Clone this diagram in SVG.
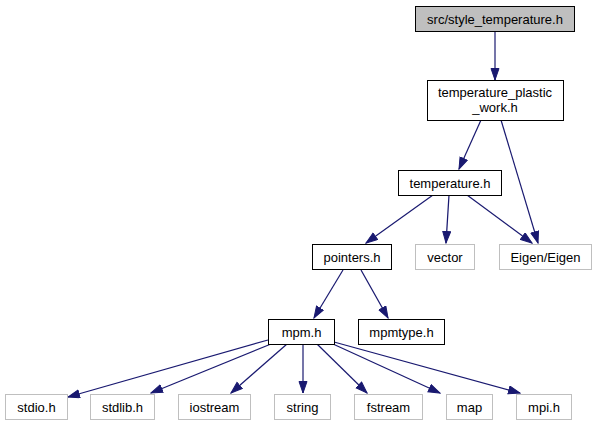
<svg xmlns="http://www.w3.org/2000/svg" width="597" height="425" viewBox="0 0 597 425">
<style>
  .n rect { fill: #ffffff; stroke: #000000; stroke-width: 1; }
  .g rect { fill: #ffffff; stroke: #bfbfbf; stroke-width: 1; }
  .root rect { fill: #bfbfbf; stroke: #000000; stroke-width: 1; }
  text { font-family: "Liberation Sans", Arial, sans-serif; font-size: 13px; fill: #000000; text-anchor: middle; }
  .e { stroke: #191970; stroke-width: 1.2; fill: none; marker-end: url(#ah); }
</style>
<defs>
  <marker id="ah" markerUnits="userSpaceOnUse" markerWidth="13" markerHeight="10" refX="12" refY="4.5" orient="auto">
    <path d="M0.5,0.5 L12,4.5 L0.5,8.5 z" fill="#191970" stroke="#191970" stroke-width="1"/>
  </marker>
</defs>
<rect width="597" height="425" fill="#ffffff"/>
<g id="edges">
  <line class="e" x1="495" y1="31" x2="495" y2="80"/>
  <line class="e" x1="481" y1="120" x2="459" y2="169"/>
  <line class="e" x1="501" y1="120" x2="538" y2="243"/>
  <line class="e" x1="433" y1="195" x2="366" y2="243"/>
  <line class="e" x1="449" y1="195" x2="446" y2="243"/>
  <line class="e" x1="467" y1="195" x2="532" y2="243"/>
  <line class="e" x1="343" y1="270" x2="314" y2="318"/>
  <line class="e" x1="361" y1="270" x2="388" y2="318"/>
  <line class="e" x1="268" y1="340" x2="68" y2="397"/>
  <line class="e" x1="271" y1="344" x2="151" y2="393"/>
  <line class="e" x1="287" y1="344" x2="231" y2="393"/>
  <line class="e" x1="303" y1="344" x2="303" y2="393"/>
  <line class="e" x1="317" y1="344" x2="367" y2="393"/>
  <line class="e" x1="333" y1="344" x2="440" y2="393"/>
  <line class="e" x1="334" y1="342" x2="520" y2="393"/>
</g>
<g id="node_style_temperature" class="root"><rect x="415.5" y="6.5" width="159" height="25"/><text x="495" y="23.5">src/style_temperature.h</text></g>
<g id="node_temperature_plastic_work" class="n"><rect x="427.5" y="80.5" width="136" height="40"/><text x="495" y="97">temperature_plastic</text><text x="495" y="111.5">_work.h</text></g>
<g id="node_temperature" class="n"><rect x="398.5" y="170.5" width="103" height="25"/><text x="450" y="187.5">temperature.h</text></g>
<g id="node_pointers" class="n"><rect x="312.5" y="244.5" width="79" height="25"/><text x="352" y="261.5">pointers.h</text></g>
<g id="node_vector" class="g"><rect x="415.5" y="244.5" width="59" height="25"/><text x="445" y="261.5">vector</text></g>
<g id="node_eigen" class="g"><rect x="499.5" y="244.5" width="92" height="25"/><text x="545.5" y="261.5">Eigen/Eigen</text></g>
<g id="node_mpm" class="n"><rect x="268.5" y="319.5" width="66" height="25"/><text x="301.5" y="336.5">mpm.h</text></g>
<g id="node_mpmtype" class="n"><rect x="358.5" y="319.5" width="86" height="25"/><text x="401.5" y="336.5">mpmtype.h</text></g>
<g id="node_stdio" class="g"><rect x="5.5" y="394.5" width="62" height="25"/><text x="36.5" y="411.5">stdio.h</text></g>
<g id="node_stdlib" class="g"><rect x="90.5" y="394.5" width="64" height="25"/><text x="122.5" y="411.5">stdlib.h</text></g>
<g id="node_iostream" class="g"><rect x="178.5" y="394.5" width="72" height="25"/><text x="214.5" y="411.5">iostream</text></g>
<g id="node_string" class="g"><rect x="274.5" y="394.5" width="56" height="25"/><text x="302.5" y="411.5">string</text></g>
<g id="node_fstream" class="g"><rect x="354.5" y="394.5" width="68" height="25"/><text x="388.5" y="411.5">fstream</text></g>
<g id="node_map" class="g"><rect x="446.5" y="394.5" width="46" height="25"/><text x="469.5" y="411.5">map</text></g>
<g id="node_mpi" class="g"><rect x="516.5" y="394.5" width="55" height="25"/><text x="544" y="411.5">mpi.h</text></g>
</svg>
